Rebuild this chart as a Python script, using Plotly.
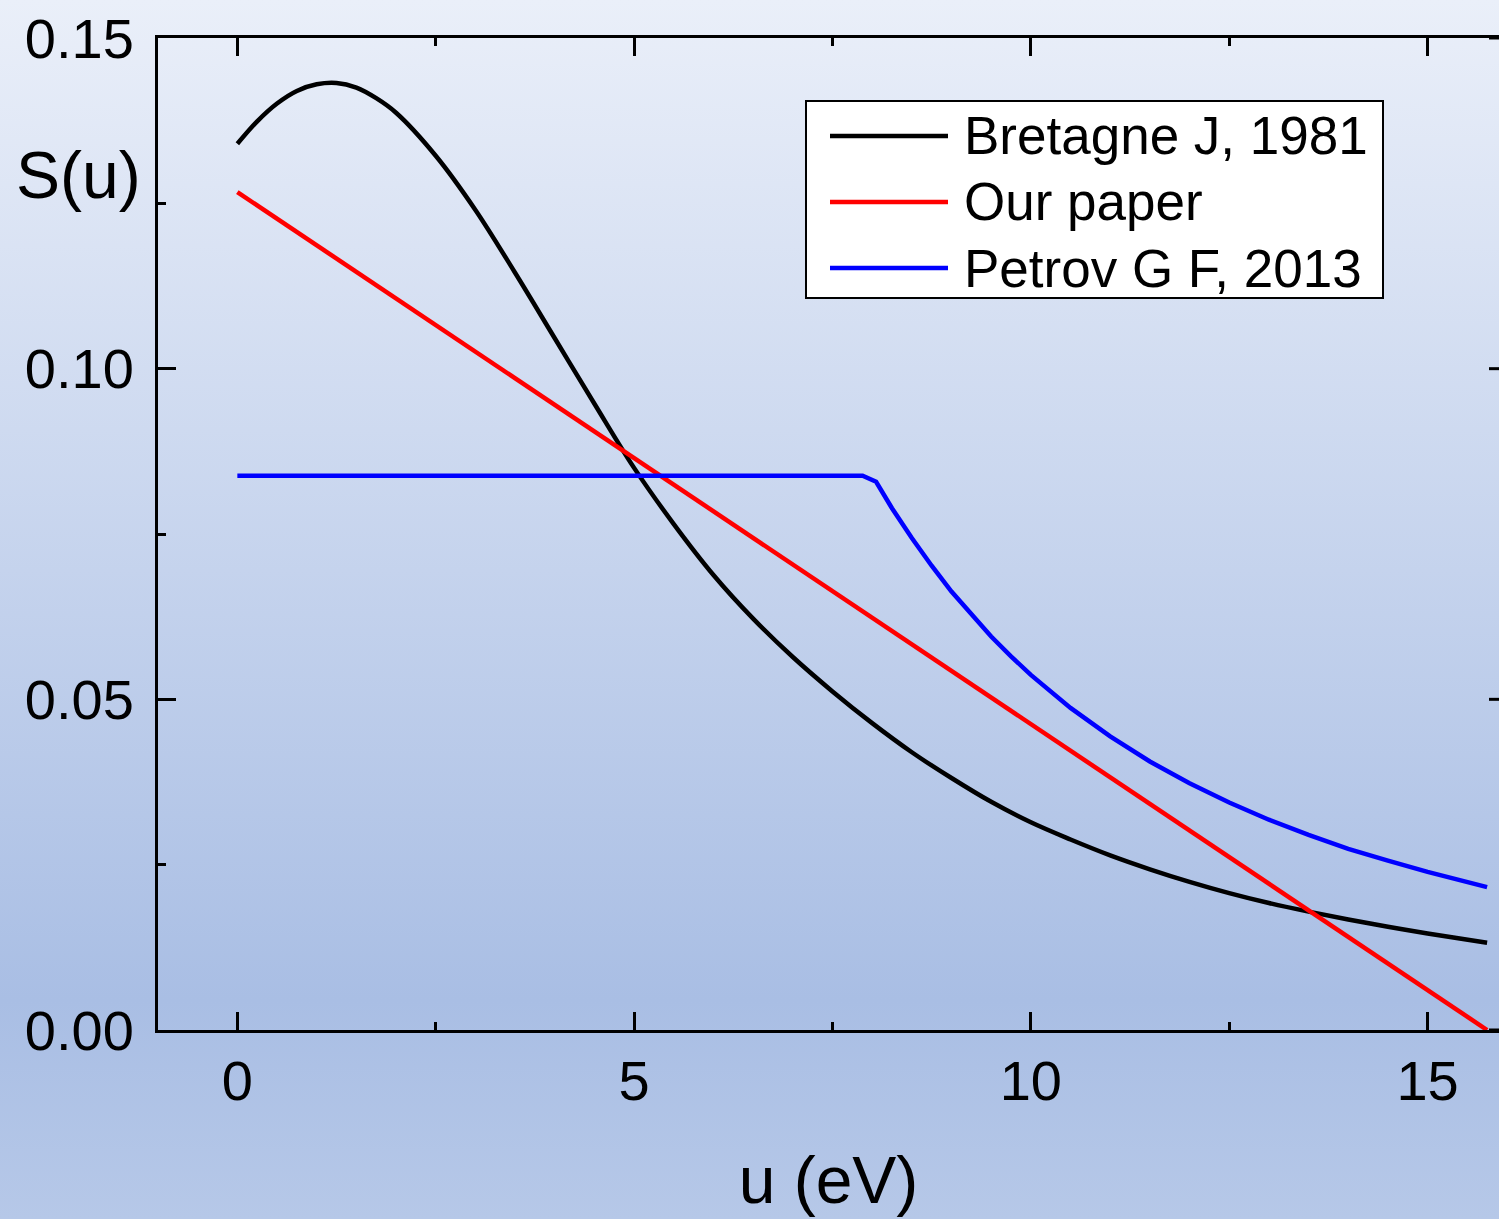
import base64
import plotly.graph_objects as go

# ---------------- data ----------------
u_bretagne = [0, 0.25, 0.5, 0.75, 1, 1.25, 1.5, 1.75, 2, 2.5, 3, 3.5, 4, 4.5, 5, 5.5, 6, 6.5,
              7, 7.5, 8, 8.5, 9, 9.5, 10, 10.5, 11, 11.5, 12, 12.5, 13, 13.5, 14, 14.5, 15,
              15.75]
s_bretagne = [0.1340, 0.1374, 0.1401, 0.1420, 0.1430, 0.1432, 0.1425, 0.1409, 0.1387,
              0.1322, 0.1240, 0.1145, 0.1046, 0.0947, 0.0850, 0.0765, 0.0688, 0.0622,
              0.0564, 0.0512, 0.0464, 0.0420, 0.0381, 0.0345, 0.0314, 0.0288, 0.0264,
              0.0243, 0.0224, 0.0207, 0.0192, 0.0179, 0.0167, 0.0156, 0.0146, 0.0132]

u_ours = [0, 15.75]
s_ours = [0.1267, 0.0]

u_petrov = [0, 7.88, 8.05, 8.25, 8.5, 8.75, 9, 9.25, 9.5, 9.75, 10, 10.5, 11, 11.5, 12,
            12.5, 13, 13.5, 14, 14.5, 15, 15.75]
s_petrov = [0.0838, 0.0838, 0.0829, 0.0789, 0.0744, 0.0702, 0.0663, 0.0628, 0.0595, 0.0565,
            0.0537, 0.0487, 0.0444, 0.0406, 0.0373, 0.0344, 0.0318, 0.0295, 0.0274, 0.0256,
            0.0239, 0.0216]

names = ["Bretagne J, 1981", "Our paper", "Petrov G F, 2013"]
colors = ["#000000", "#ff0000", "#0000ff"]

x_ticks = [0, 5, 10, 15]
y_ticks = [0.00, 0.05, 0.10, 0.15]
y_ticklabels = ["0.00", "0.05", "0.10", "0.15"]

# ---------------- figure ----------------
W, H = 1499, 1219
ML, MR, MT, MB = 158, 0, 38, 189
PW, PH = W - ML - MR, H - MT - MB
FONT = "Liberation Sans, Arial, sans-serif"


def px(xpix):
    return (xpix - ML) / PW


def py(ypix):
    return (H - MB - ypix) / PH


fig = go.Figure()
for (xs, ys), name, col in zip([(u_bretagne, s_bretagne), (u_ours, s_ours), (u_petrov, s_petrov)],
                               names, colors):
    fig.add_trace(go.Scatter(x=xs, y=ys, mode="lines", name=name, showlegend=False,
                             line=dict(color=col, width=4.5,
                                       shape="spline" if name.startswith("Bretagne") else "linear",
                                       smoothing=1.0)))

# gradient background as an inline SVG image
svg = ('<svg xmlns="http://www.w3.org/2000/svg" width="100" height="100" preserveAspectRatio="none">'
       '<defs><linearGradient id="g" x1="0" y1="0" x2="0" y2="1">'
       '<stop offset="0" stop-color="#eaeff9"/>'
       '<stop offset="0.82" stop-color="#a9bee4"/>'
       '<stop offset="1" stop-color="#b6c8e8"/>'
       '</linearGradient></defs><rect width="100" height="100" fill="url(#g)"/></svg>')
uri = "data:image/svg+xml;base64," + base64.b64encode(svg.encode()).decode()
fig.add_layout_image(dict(source=uri, xref="paper", yref="paper",
                          x=-ML / PW, y=1 + MT / PH, sizex=W / PW, sizey=H / PH,
                          xanchor="left", yanchor="top", sizing="stretch", layer="below"))

# right-side ticks (the right frame line lies just outside the picture)
for yv in y_ticks:
    fig.add_shape(type="line", xref="paper", yref="y", x0=1 - 10 / PW, x1=1, y0=yv, y1=yv,
                  line=dict(color="black", width=3))

# legend box drawn by hand
fig.add_shape(type="rect", xref="paper", yref="paper", x0=px(806), x1=px(1383),
              y0=py(298), y1=py(101), fillcolor="white", line=dict(color="black", width=2),
              layer="above")
for i, (name, col) in enumerate(zip(names, colors)):
    yy = py(136 + 66 * i)
    fig.add_shape(type="line", xref="paper", yref="paper", x0=px(830), x1=px(948),
                  y0=yy, y1=yy, line=dict(color=col, width=4.5), layer="above")
    fig.add_annotation(text=name, xref="paper", yref="paper", x=px(962), y=yy,
                       xanchor="left", yanchor="middle", showarrow=False,
                       font=dict(family=FONT, size=53, color="black"))

axis_common = dict(showgrid=False, zeroline=False, showline=True, linecolor="black",
                   linewidth=3, ticks="inside", ticklen=18, tickwidth=3, tickcolor="black",
                   tickfont=dict(family=FONT, size=56, color="black"))

fig.update_xaxes(range=[-1, 15.9], tickvals=x_ticks, mirror="ticks",
                 minor=dict(dtick=2.5, tick0=0, ticks="inside", ticklen=8, tickwidth=3,
                            tickcolor="black"),
                 ticklabelstandoff=0,
                 title=dict(text="u (eV)", font=dict(family=FONT, size=66, color="black"),
                            standoff=46),
                 **axis_common)
fig.update_yaxes(range=[0, 0.15], tickvals=y_ticks, ticktext=y_ticklabels,
                 minor=dict(dtick=0.025, tick0=0, ticks="inside", ticklen=8, tickwidth=3,
                            tickcolor="black"),
                 ticklabelstandoff=10, **axis_common)

fig.add_annotation(text="S(u)", xref="paper", yref="paper", x=px(78), y=py(175),
                   xanchor="center", yanchor="middle", showarrow=False,
                   font=dict(family=FONT, size=66, color="black"))

fig.update_layout(
    width=W, height=H, autosize=False,
    margin=dict(l=ML, r=MR, t=MT, b=MB, pad=0),
    paper_bgcolor="#c6d3ee", plot_bgcolor="rgba(0,0,0,0)",
    font=dict(family=FONT, color="black"),
    showlegend=False,
)

fig.write_html("out.html")
